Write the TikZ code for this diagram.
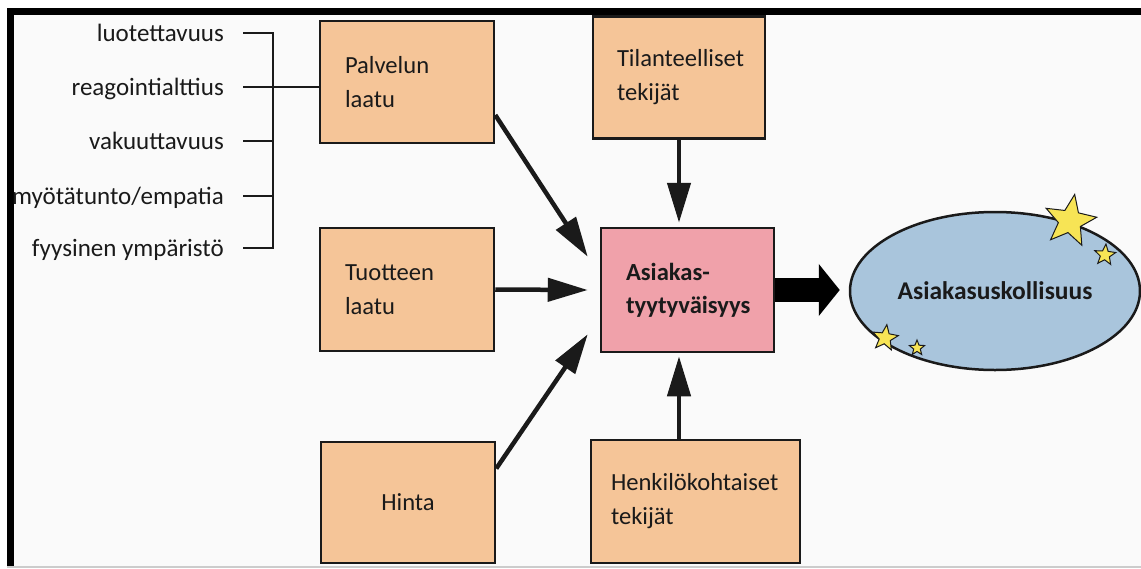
\documentclass[tikz,border=0pt]{standalone}
\usepackage{fontspec}
\setmainfont{Carlito}
\usetikzlibrary{arrows.meta,shapes.geometric}
\definecolor{peach}{HTML}{F5C598}
\definecolor{rose}{HTML}{F0A1AA}
\definecolor{sky}{HTML}{A9C5DC}
\definecolor{bg}{HTML}{FAFAFA}
\definecolor{staryel}{HTML}{F7E455}
\definecolor{ink}{HTML}{1A1A1A}
\hyphenpenalty=10000
\exhyphenpenalty=10000
\begin{document}
\begin{tikzpicture}[x=1pt,y=-1pt,
  box/.style={draw=ink, line width=2.5pt, fill=peach, minimum height=122pt,
    inner xsep=25pt, inner ysep=0pt, align=left, text=ink,
    font=\fontsize{24.6}{34}\selectfont},
  item/.style={inner sep=0pt, anchor=base east, text=ink, font=\fontsize{25}{28}\selectfont},
  arr/.style={draw=ink, line width=4.5pt, -{Triangle[length=40pt,width=23pt]}},
  brk/.style={draw=ink, line width=2.8pt},
  stardeco/.style={star, star points=5, star point ratio=2.3, draw=ink,
    line width=1pt, fill=staryel, inner sep=0pt}]
% page and frame
\fill[white] (0,0) rectangle (1141,568);
\fill[bg] (7,8) rectangle (1141,566);
\fill[black!20] (7,566) rectangle (1141,568);
\fill[black] (7,8) rectangle (1141,15);
\fill[black] (7,8) rectangle (14,566);
\useasboundingbox (0,0) rectangle (1141,568);

% boxes
\node[box, minimum width=174pt, text width=124pt] (pal) at (407,82) {Palvelun\\laatu};
\node[box, minimum width=172pt, text width=124pt, inner xsep=24pt] (til) at (679,77.5) {Tilanteelliset\\tekijät};
\node[box, minimum width=174pt, text width=124pt, minimum height=123pt] (tuo) at (407,289.5) {Tuotteen\\laatu};
\node[box, minimum width=174pt, text width=124pt, align=center, minimum height=121pt] (hin) at (408,502.5) {Hinta};
\node[box, minimum width=209pt, text width=169pt, inner xsep=20pt, minimum height=123pt] (hen) at (695.5,501.5) {Henkilökohtaiset\\tekijät};
\node[box, fill=rose, minimum width=173pt, text width=123pt, minimum height=124pt,
  font=\fontsize{24.6}{33}\selectfont\bfseries] (pink) at (687.5,290) {Asiakas-\\tyytyväisyys};
\node[ellipse, draw=ink, line width=2.5pt, fill=sky, minimum width=290pt, minimum height=158pt,
  inner sep=0pt, text=ink, font=\fontsize{25.5}{30}\selectfont\bfseries] (loy) at (995,291) {Asiakasuskollisuus};

% stars
\node[stardeco, minimum size=54pt, rotate=-10] (s1) at (1070,221) {};
\node[stardeco, minimum size=22pt, rotate=-5] (s2) at (1105,255) {};
\node[stardeco, minimum size=27pt, rotate=-8] (s3) at (885,338) {};
\node[stardeco, minimum size=16pt] (s4) at (917,348) {};

% list
\node[item] (i1) at (224,41) {luotettavuus};
\node[item] (i2) at (224,95) {reagointialttius};
\node[item] (i3) at (224,149) {vakuuttavuus};
\node[item] (i4) at (224,204) {myötätunto/empatia};
\node[item] (i5) at (224,256) {fyysinen ympäristö};
\coordinate (t1) at (243,33);
\coordinate (t2) at (243,87);
\coordinate (t3) at (243,141);
\coordinate (t4) at (243,196);
\coordinate (t5) at (243,248);
\coordinate (b1) at (273,33);
\coordinate (b3) at (273,141);
\coordinate (b4) at (273,196);
\coordinate (b5) at (273,248);
\draw[brk, line join=miter] (t1) -- (b1) -- (b5) -- (t5);
\draw[brk] (t2) -- (pal.west |- t2);
\draw[brk] (t3) -- (b3);
\draw[brk] (t4) -- (b4);

% arrows
\draw[arr] ([yshift=-33pt]pal.east) -- ([xshift=-12pt,yshift=-30pt]pink.north west);
\draw[arr] (tuo.east) -- ([xshift=-12pt]pink.west);
\draw[arr] ([yshift=34pt]hin.east) -- ([xshift=-12pt,yshift=19pt]pink.south west);
\draw[arr, shorten >=4pt] (til.south) -- (pink.north -| til.south);
\draw[arr, shorten >=3pt] (hen.north -| til.south) -- (pink.south -| til.south);
\draw[draw=black, line width=24pt, -{Triangle[length=21pt,width=51pt]}, shorten >=9pt]
  (pink.east) -- (pink.east -| loy.west);
\end{tikzpicture}
\end{document}
